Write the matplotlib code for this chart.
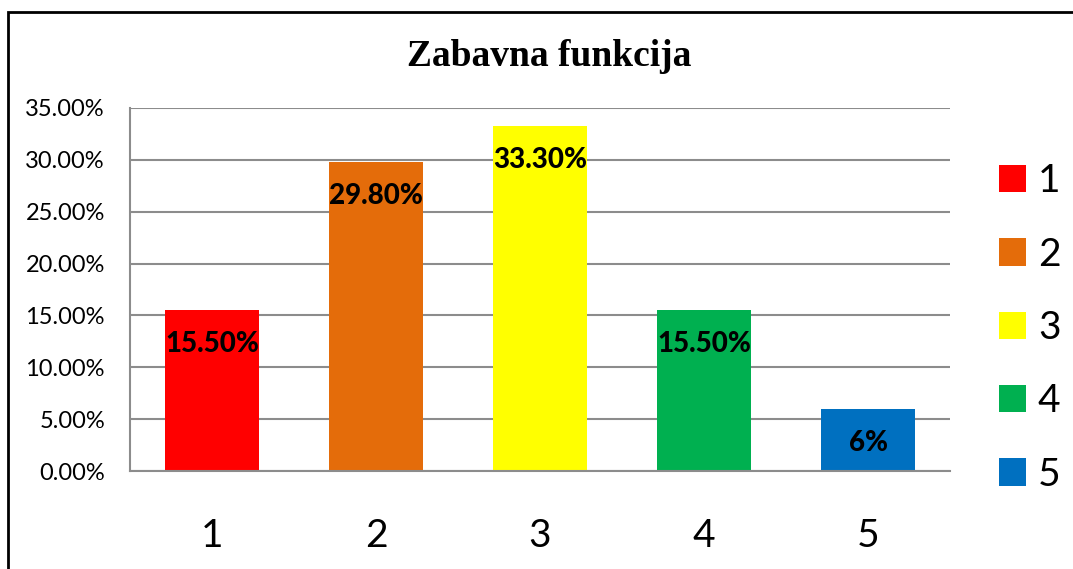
import matplotlib
matplotlib.use("Agg")
import matplotlib.pyplot as plt
from matplotlib.patches import Rectangle
from matplotlib.ticker import FuncFormatter, MultipleLocator

categories = ["1", "2", "3", "4", "5"]
values = [0.155, 0.298, 0.333, 0.155, 0.06]
value_labels = ["15.50%", "29.80%", "33.30%", "15.50%", "6%"]
colors = ["#FF0000", "#E46C0A", "#FFFF00", "#00B050", "#0070C0"]
title = "Zabavna funkcija"

W, H = 1073, 569
fig = plt.figure(figsize=(W / 100, H / 100), dpi=100)
fig.patches.append(Rectangle((8 / W, -0.1), 1.2, 1 - 12 / H + 0.1, transform=fig.transFigure,
                             fill=False, edgecolor="black", linewidth=2, zorder=0))

ax = fig.add_axes([130 / W, 1 - 471 / H, (950 - 130) / W, (471 - 108) / H])
x = list(range(len(categories)))
bars = ax.bar(x, values, width=0.573, color=colors, zorder=2)
ax.set_xlim(-0.5, len(categories) - 0.5)
ax.set_ylim(0, 0.35)
ax.yaxis.set_major_locator(MultipleLocator(0.05))
ax.yaxis.set_major_formatter(FuncFormatter(lambda v, p: f"{v * 100:.2f}%"))
ax.set_xticks(x)
ax.set_xticklabels(categories)
ax.grid(axis="y", color="#8c8c8c", linewidth=1.5, zorder=0)
ax.set_axisbelow(True)
for s in ["top", "right"]:
    ax.spines[s].set_visible(False)
ax.spines["left"].set_color("#8c8c8c")
ax.spines["bottom"].set_color("#8c8c8c")
ax.spines["left"].set_linewidth(1.5)
ax.spines["bottom"].set_linewidth(1.5)
ax.tick_params(axis="y", length=0, pad=18, labelsize=17, labelfontfamily="Lato")
ax.tick_params(axis="x", length=0, pad=34, labelsize=28, labelfontfamily="Lato")

for b, lab in zip(bars, value_labels):
    ax.annotate(lab, (b.get_x() + b.get_width() / 2, b.get_height()), xytext=(0, -24.5),
                textcoords="offset points", ha="center", va="center",
                fontsize=20, fontweight=900, family="Lato", zorder=3)

fig.text(549 / W, 1 - 56 / H, title, ha="center", va="center", fontsize=27,
         fontweight="bold", family="Liberation Serif")

leg = ax.legend(bars, categories, loc="center left", bbox_to_anchor=(999 / W, 1 - 328 / H),
                bbox_transform=fig.transFigure, frameon=False,
                prop={"family": "Lato", "size": 28}, borderpad=0, borderaxespad=0,
                handlelength=0.7, handleheight=0.7, handletextpad=0.3, labelspacing=0.96)

fig.savefig("out.png", dpi=100)
